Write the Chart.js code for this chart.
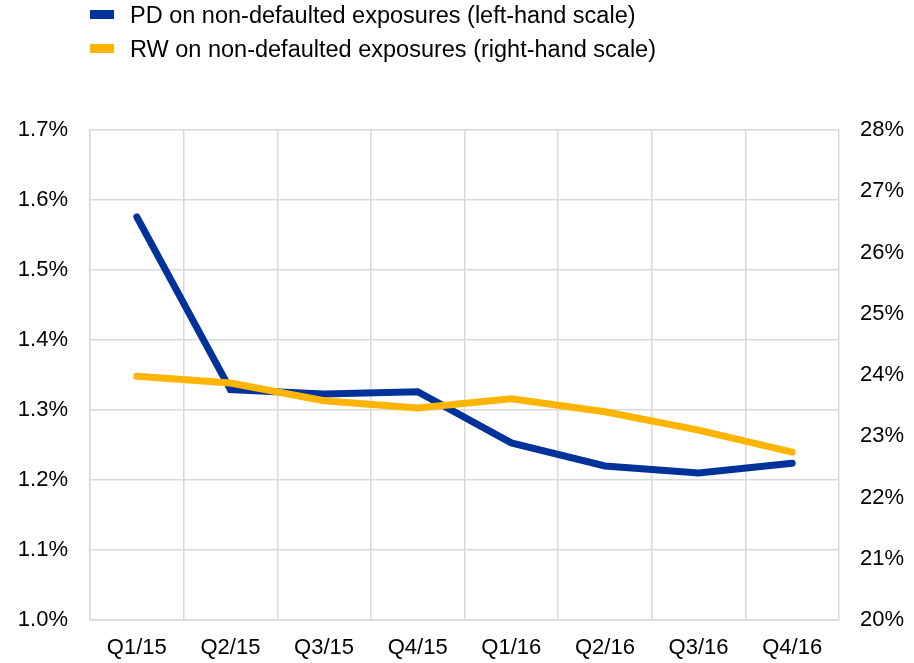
<!DOCTYPE html>
<html>
<head>
<meta charset="utf-8">
<script src="https://cdn.jsdelivr.net/npm/chart.js@4"></script>
<style>
  body { margin: 0; background: #fff; }
  #wrap { position: relative; width: 914px; height: 663px; }
  .legend { position: absolute; left: 90px; font-family: "Liberation Sans", Arial, sans-serif; font-size: 23.5px; color: #000; }
  .legend div { position: relative; height: 34px; line-height: 34px; padding-left: 40px; white-space: nowrap; }
  .legend span { position: absolute; left: 0; top: 12px; width: 24px; height: 9px; }
</style>
</head>
<body>
<div id="wrap">
  <canvas id="chart" width="914" height="663"></canvas>
  <div class="legend" id="legend" style="top:-2px"></div>
</div>
<script>
const quarters = ['Q1/15', 'Q2/15', 'Q3/15', 'Q4/15', 'Q1/16', 'Q2/16', 'Q3/16', 'Q4/16'];
const pdValues = [1.576, 1.329, 1.323, 1.326, 1.253, 1.220, 1.210, 1.224];
const rwValues = [23.98, 23.87, 23.58, 23.46, 23.61, 23.40, 23.10, 22.74];
const pdLabel = 'PD on non-defaulted exposures (left-hand scale)';
const rwLabel = 'RW on non-defaulted exposures (right-hand scale)';

const blue = '#003299';
const yellow = '#FFB400';
const gridColor = '#d9d9d9';
const font = { family: '"Liberation Sans", Arial, sans-serif', size: 22 };

// html legend, stacked like the original
const legend = document.getElementById('legend');
[[pdLabel, blue], [rwLabel, yellow]].forEach(([text, color]) => {
    const row = document.createElement('div');
    row.innerHTML = '<span style="background:' + color + '"></span>' + text;
    legend.appendChild(row);
});

const ctx = document.getElementById('chart').getContext('2d');
new Chart(ctx, {
    type: 'line',
    data: {
        labels: quarters,
        datasets: [
            {
                label: pdLabel,
                data: pdValues,
                borderColor: blue,
                borderWidth: 7,
                borderCapStyle: 'round',
                pointRadius: 0,
                yAxisID: 'yLeft',
                order: 1
            },
            {
                label: rwLabel,
                data: rwValues,
                borderColor: yellow,
                borderWidth: 7,
                borderCapStyle: 'round',
                pointRadius: 0,
                yAxisID: 'yRight',
                order: 0
            }
        ]
    },
    options: {
        responsive: false,
        animation: false,
        layout: { padding: { top: 130 } },
        plugins: { legend: { display: false }, tooltip: { enabled: false } },
        scales: {
            x: {
                offset: true,
                grid: { offset: true, color: gridColor, lineWidth: 1.5, drawTicks: false },
                border: { color: gridColor, width: 1.5 },
                ticks: { color: '#000', font: font, padding: 15, maxRotation: 0 },
                afterFit: (axis) => { axis.height = 43; }
            },
            yLeft: {
                position: 'left',
                min: 1.0,
                max: 1.7,
                grid: { color: gridColor, lineWidth: 1.5, drawTicks: false },
                border: { color: gridColor, width: 1.5 },
                ticks: {
                    stepSize: 0.1,
                    color: '#000',
                    font: font,
                    padding: 22,
                    callback: (v) => v.toFixed(1) + '%'
                },
                afterFit: (axis) => { axis.width = 90; }
            },
            yRight: {
                position: 'right',
                min: 20,
                max: 28,
                grid: { drawOnChartArea: false, drawTicks: false },
                border: { display: false },
                ticks: {
                    stepSize: 1,
                    color: '#000',
                    font: font,
                    padding: 21,
                    callback: (v) => v + '%'
                },
                afterFit: (axis) => { axis.width = 75; }
            }
        }
    }
});
</script>
</body>
</html>
